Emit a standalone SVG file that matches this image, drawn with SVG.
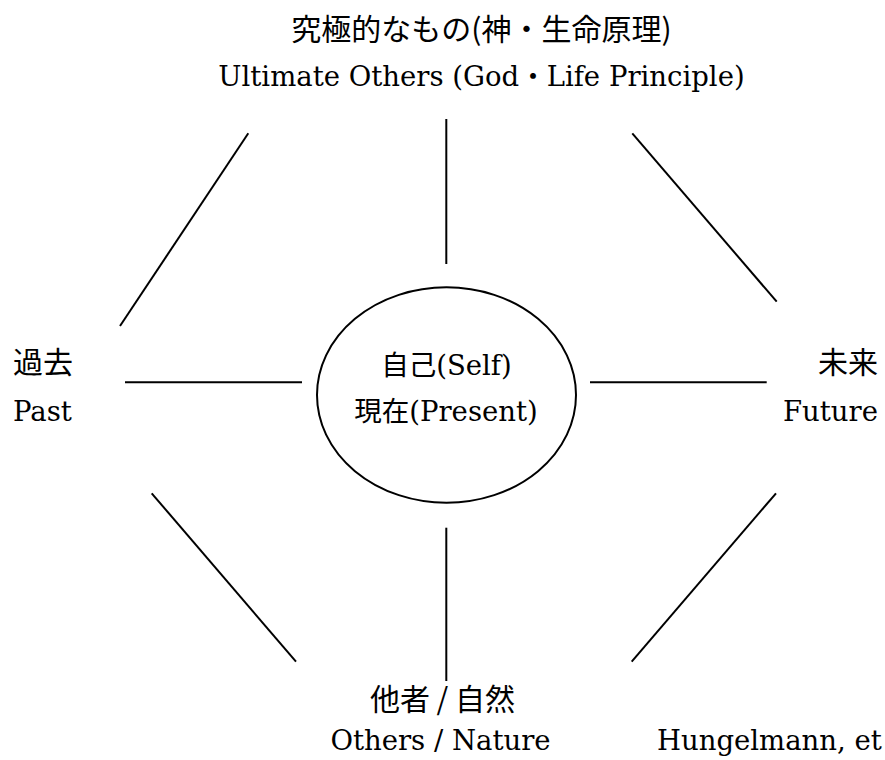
<svg xmlns="http://www.w3.org/2000/svg" width="885" height="760" viewBox="0 0 885 760">
<style>
.t{font-family:"DejaVu Serif","Noto Sans CJK JP",serif;font-size:27.5px;fill:#000}
.j{font-family:"Noto Sans CJK JP",sans-serif;font-size:30px;fill:#000}
.c{text-anchor:middle}
.e{text-anchor:end}
.ln{stroke:#000;stroke-width:2;fill:none}
</style>
<rect width="885" height="760" fill="#fff"/>
<g id="connectors">
<line class="ln" x1="248.3" y1="133.3" x2="120" y2="326"/>
<line class="ln" x1="446.3" y1="119" x2="446.3" y2="264"/>
<line class="ln" x1="632.3" y1="133.3" x2="776.7" y2="301.7"/>
<line class="ln" x1="125" y1="382.3" x2="302" y2="382.3"/>
<line class="ln" x1="590" y1="382.3" x2="766.7" y2="382.3"/>
<line class="ln" x1="151.7" y1="493.3" x2="296" y2="661.7"/>
<line class="ln" x1="446.3" y1="527.7" x2="446.3" y2="681"/>
<line class="ln" x1="776" y1="493.3" x2="631.7" y2="661.7"/>
</g>
<g id="top">
<text class="j c" x="481.5" y="40">究極的なもの(神・生命原理)</text>
<text class="t c" x="481.5" y="86">Ultimate Others (God・Life Principle)</text>
</g>
<g id="self">
<ellipse class="ln" cx="446.5" cy="395" rx="129.5" ry="107.7"/>
<text class="t c" x="446.5" y="375">自己(Self)</text>
<text class="t c" x="446" y="421">現在(Present)</text>
</g>
<g id="past">
<text class="j" x="13" y="373">過去</text>
<text class="t" x="13" y="421">Past</text>
</g>
<g id="future">
<text class="j e" x="878" y="373">未来</text>
<text class="t e" x="878" y="421">Future</text>
</g>
<g id="others">
<text class="j c" x="442.5" y="710">他者 / 自然</text>
<text class="t c" x="440.5" y="750">Others / Nature</text>
</g>
<g id="citation">
<text class="t" x="657" y="750">Hungelmann, et</text>
</g>
</svg>
